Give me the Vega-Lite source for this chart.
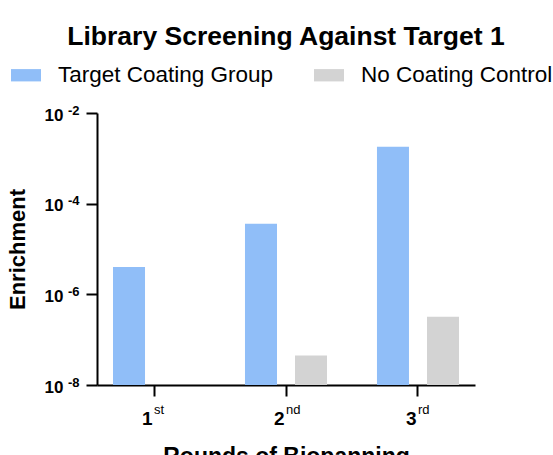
{
  "$schema": "https://vega.github.io/schema/vega-lite/v6.json",
  "autosize": {"type": "none"},
  "padding": {"left": 97, "top": 113, "right": 78, "bottom": 70},
  "width": 378,
  "height": 272,
  "background": "white",
  "config": {"view": {"stroke": null}, "font": "Liberation Sans"},
  "title": {
    "text": "Library Screening Against Target 1",
    "font": "Liberation Sans",
    "fontSize": 26.5,
    "fontWeight": "bold",
    "color": "black",
    "anchor": "middle",
    "dx": 0,
    "offset": 10
  },
  "data": {
    "values": [
      {"round": "1", "group": "Target Coating Group", "enrichment": 4.0e-6},
      {"round": "2", "group": "Target Coating Group", "enrichment": 3.6e-5},
      {"round": "2", "group": "No Coating Control", "enrichment": 4.5e-8},
      {"round": "3", "group": "Target Coating Group", "enrichment": 1.8e-3},
      {"round": "3", "group": "No Coating Control", "enrichment": 3.2e-7}
    ]
  },
  "resolve": {"axis": {"x": "independent", "y": "independent"}},
  "layer": [
    {
      "mark": {"type": "bar"},
      "encoding": {
        "x": {
          "field": "round", "type": "nominal", "sort": ["1", "2", "3"],
          "scale": {"paddingInner": 0.136, "paddingOuter": 0},
          "axis": {
            "orient": "bottom",
            "title": "Rounds of Biopanning",
            "titleFont": "Liberation Sans", "titleFontSize": 23, "titleFontWeight": "bold", "titleColor": "black",
            "titlePadding": 17,
            "labelAngle": 0,
            "labelFont": "Liberation Sans", "labelFontSize": 19, "labelFontWeight": "bold", "labelColor": "black",
            "labelAlign": "right", "labelBaseline": "alphabetic", "labelPadding": 28, "labelOffset": -1.5,
            "tickSize": 11, "tickWidth": 2, "tickColor": "black",
            "domainColor": "black", "domainWidth": 2,
            "grid": false
          }
        },
        "xOffset": {
          "field": "group", "type": "nominal",
          "sort": ["Target Coating Group", "No Coating Control"],
          "scale": {"paddingInner": 0.36, "paddingOuter": 0.32}
        },
        "y": {
          "field": "enrichment", "type": "quantitative", "stack": null,
          "scale": {"type": "log", "domain": [1e-8, 1e-2], "nice": false},
          "axis": {
            "orient": "left",
            "title": "Enrichment",
            "titleFont": "Liberation Sans", "titleFontSize": 22, "titleFontWeight": "bold", "titleColor": "black",
            "titlePadding": 15,
            "values": [1e-8, 1e-6, 1e-4, 1e-2],
            "labelExpr": "'10'",
            "labelFont": "Liberation Sans", "labelFontSize": 17, "labelFontWeight": "bold", "labelColor": "black",
            "labelAlign": "right", "labelBaseline": "alphabetic", "labelPadding": 23, "labelOffset": 7,
            "labelOverlap": false, "labelFlush": false,
            "tickSize": 11, "tickWidth": 2, "tickColor": "black",
            "domainColor": "black", "domainWidth": 2,
            "grid": false
          }
        },
        "color": {
          "field": "group", "type": "nominal",
          "sort": ["Target Coating Group", "No Coating Control"],
          "scale": {"domain": ["Target Coating Group", "No Coating Control"], "range": ["#90BEF8", "#D3D3D3"]},
          "legend": {
            "title": null,
            "orient": "none",
            "direction": "horizontal",
            "legendX": -86,
            "legendY": -53,
            "padding": 0,
            "symbolType": "M-1,-0.41H1V0.41H-1Z",
            "symbolSize": 900,
            "symbolStrokeWidth": 0,
            "symbolOpacity": 1,
            "labelFont": "Liberation Sans", "labelFontSize": 22.5, "labelColor": "black",
            "labelOffset": 17,
            "labelLimit": 400,
            "columnPadding": 40
          }
        }
      }
    },
    {
      "mark": {"type": "bar", "opacity": 0},
      "encoding": {
        "x": {
          "field": "round", "type": "nominal", "sort": ["1", "2", "3"],
          "axis": {
            "orient": "bottom",
            "title": null,
            "labelAngle": 0,
            "labelExpr": "datum.value == '1' ? 'st' : datum.value == '2' ? 'nd' : 'rd'",
            "labelFont": "Liberation Sans", "labelFontSize": 13, "labelFontWeight": "normal", "labelColor": "black",
            "labelAlign": "left", "labelBaseline": "alphabetic", "labelPadding": 17, "labelOffset": 0,
            "tickSize": 11, "tickOpacity": 0,
            "domain": false,
            "grid": false
          }
        },
        "y": {
          "field": "enrichment", "type": "quantitative", "stack": null,
          "axis": {
            "orient": "left",
            "title": null,
            "values": [1e-8, 1e-6, 1e-4, 1e-2],
            "labelExpr": "'-' + round(-log(datum.value) / LN10)",
            "labelFont": "Liberation Sans", "labelFontSize": 13, "labelFontWeight": "bold", "labelColor": "black",
            "labelAlign": "right", "labelBaseline": "alphabetic", "labelPadding": 7, "labelOffset": 1,
            "labelOverlap": false, "labelFlush": false,
            "tickSize": 11, "tickOpacity": 0,
            "domain": false,
            "grid": false
          }
        }
      }
    }
  ]
}
